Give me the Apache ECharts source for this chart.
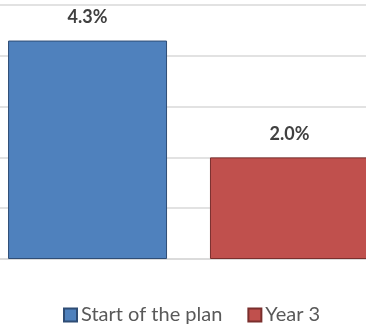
<!DOCTYPE html>
<html>
<head>
<meta charset="utf-8">
<script src="https://cdn.jsdelivr.net/npm/echarts@6/dist/echarts.min.js"></script>
<style>
  html, body { margin: 0; padding: 0; background: #ffffff; overflow: hidden; }
  #chart { width: 377px; height: 325px; }
</style>
</head>
<body>
<div id="chart"></div>
<script>
// Chart data
const categories = [''];
const seriesNames = ['Start of the plan', 'Year 3'];
const startOfPlan = [4.3];
const year3 = [2.0];
const yTicks = { min: 0, max: 5, interval: 1 };

const FONT = 'Lato, "Open Sans", sans-serif';

const chart = echarts.init(document.getElementById('chart'), null, { renderer: 'canvas' });

function barSeries(name, values, fill, stroke) {
  return {
    name: name,
    type: 'bar',
    data: values,
    barWidth: 159,
    barGap: '27%',
    itemStyle: { color: fill, borderColor: stroke, borderWidth: 1 },
    label: {
      show: true,
      position: 'top',
      distance: 14,
      formatter: p => p.value.toFixed(1) + '%',
      color: '#404040',
      fontFamily: FONT,
      fontWeight: 'bold',
      fontSize: 18
    }
  };
}

chart.setOption({
  animation: false,
  grid: { left: 0, right: 0, top: 5, bottom: 66, containLabel: false },
  xAxis: {
    type: 'category',
    data: categories,
    axisLine: { show: true, lineStyle: { color: '#d9d9d9', width: 1.5 } },
    axisTick: { show: false },
    axisLabel: { show: false }
  },
  yAxis: {
    type: 'value',
    min: yTicks.min,
    max: yTicks.max,
    interval: yTicks.interval,
    axisLabel: { show: false },
    axisLine: { show: false },
    axisTick: { show: false },
    splitLine: { lineStyle: { color: '#d9d9d9', width: 1.5 } }
  },
  legend: {
    data: seriesNames,
    left: 58,
    top: 300,
    itemWidth: 13,
    itemHeight: 13,
    itemGap: 25,
    icon: 'rect',
    textStyle: { color: '#595959', fontFamily: FONT, fontSize: 20, padding: [0, 0, 0, -1] }
  },
  series: [
    barSeries(seriesNames[0], startOfPlan, '#4f81bd', '#2f4d75'),
    barSeries(seriesNames[1], year3, '#c0504d', '#7a2f2d')
  ]
});
</script>
</body>
</html>
